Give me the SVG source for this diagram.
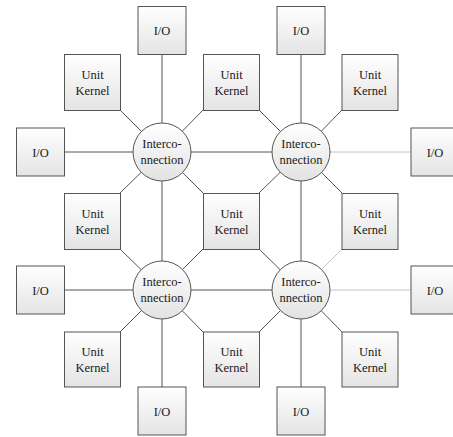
<svg xmlns="http://www.w3.org/2000/svg" width="453" height="437" viewBox="0 0 453 437">
  <defs>
    <linearGradient id="boxFill" x1="0" y1="0" x2="0" y2="1">
      <stop offset="0" stop-color="#ffffff"/>
      <stop offset="1" stop-color="#e4e4e4"/>
    </linearGradient>
    <linearGradient id="hubFill" x1="0" y1="0" x2="0" y2="1">
      <stop offset="0" stop-color="#ffffff"/>
      <stop offset="1" stop-color="#e2e2e2"/>
    </linearGradient>
  </defs>
  <style>
    .box { fill: url(#boxFill); stroke: #555555; stroke-width: 1; }
    .hub { fill: url(#hubFill); stroke: #555555; stroke-width: 1; }
    .link { stroke: #555555; stroke-width: 1; fill: none; }
    .link.faint { stroke: #c4c4c4; }
    text { font-family: "Liberation Serif", "Times New Roman", serif; font-size: 12.5px; fill: #1a1a1a; text-anchor: middle; }
  </style>
  <rect width="453" height="437" fill="#ffffff"/>

  <g id="connectors">
    <!-- hub to hub -->
    <line class="link" x1="162" y1="152" x2="301" y2="152"/>
    <line class="link" x1="162" y1="290" x2="301" y2="290"/>
    <line class="link" x1="162" y1="152" x2="162" y2="290"/>
    <line class="link" x1="301" y1="152" x2="301" y2="290"/>
    <!-- hubs to I/O -->
    <line class="link" x1="162" y1="54" x2="162" y2="152"/>
    <line class="link" x1="301" y1="54" x2="301" y2="152"/>
    <line class="link" x1="65" y1="152" x2="162" y2="152"/>
    <line class="link faint" x1="301" y1="152" x2="411" y2="152"/>
    <line class="link" x1="65" y1="290" x2="162" y2="290"/>
    <line class="link faint" x1="301" y1="290" x2="411" y2="290"/>
    <line class="link" x1="162" y1="290" x2="162" y2="387"/>
    <line class="link" x1="301" y1="290" x2="301" y2="387"/>
    <!-- hubs to unit kernels -->
    <line class="link" x1="162" y1="152" x2="120" y2="110"/>
    <line class="link" x1="162" y1="152" x2="203" y2="110"/>
    <line class="link" x1="162" y1="152" x2="120" y2="193"/>
    <line class="link" x1="162" y1="152" x2="203" y2="193"/>
    <line class="link" x1="301" y1="152" x2="259" y2="110"/>
    <line class="link" x1="301" y1="152" x2="342" y2="110"/>
    <line class="link" x1="301" y1="152" x2="259" y2="193"/>
    <line class="link" x1="301" y1="152" x2="342" y2="193"/>
    <line class="link" x1="162" y1="290" x2="120" y2="249"/>
    <line class="link" x1="162" y1="290" x2="203" y2="249"/>
    <line class="link" x1="162" y1="290" x2="120" y2="332"/>
    <line class="link" x1="162" y1="290" x2="203" y2="332"/>
    <line class="link" x1="301" y1="290" x2="259" y2="249"/>
    <line class="link faint" x1="301" y1="290" x2="342" y2="249"/>
    <line class="link" x1="301" y1="290" x2="259" y2="332"/>
    <line class="link" x1="301" y1="290" x2="342" y2="332"/>
  </g>

  <!-- I/O ports -->
  <g id="io-top-left"><rect class="box" x="138" y="6.5" width="48" height="48"/><text x="162" y="35">I/O</text></g>
  <g id="io-top-right"><rect class="box" x="277" y="6.5" width="48" height="48"/><text x="301" y="35">I/O</text></g>
  <g id="io-left-upper"><rect class="box" x="16.5" y="128" width="48" height="48"/><text x="40.5" y="156.5">I/O</text></g>
  <g id="io-left-lower"><rect class="box" x="16.5" y="266" width="48" height="48"/><text x="40.5" y="294.5">I/O</text></g>
  <g id="io-right-upper"><rect class="box" x="411" y="128" width="48" height="48"/><text x="435" y="156.5">I/O</text></g>
  <g id="io-right-lower"><rect class="box" x="411" y="266" width="48" height="48"/><text x="435" y="294.5">I/O</text></g>
  <g id="io-bottom-left"><rect class="box" x="138" y="387" width="48" height="48"/><text x="162" y="415.5">I/O</text></g>
  <g id="io-bottom-right"><rect class="box" x="277" y="387" width="48" height="48"/><text x="301" y="415.5">I/O</text></g>

  <!-- unit kernels -->
  <g id="uk-1"><rect class="box" x="64.5" y="54.5" width="56" height="56"/><text x="92.5" y="78.5">Unit</text><text x="92.5" y="94.5">Kernel</text></g>
  <g id="uk-2"><rect class="box" x="203.5" y="54.5" width="56" height="56"/><text x="231.5" y="78.5">Unit</text><text x="231.5" y="94.5">Kernel</text></g>
  <g id="uk-3"><rect class="box" x="342" y="54.5" width="56" height="56"/><text x="370" y="78.5">Unit</text><text x="370" y="94.5">Kernel</text></g>
  <g id="uk-4"><rect class="box" x="64.5" y="193.5" width="56" height="56"/><text x="92.5" y="217.5">Unit</text><text x="92.5" y="233.5">Kernel</text></g>
  <g id="uk-5"><rect class="box" x="203.5" y="193.5" width="56" height="56"/><text x="231.5" y="217.5">Unit</text><text x="231.5" y="233.5">Kernel</text></g>
  <g id="uk-6"><rect class="box" x="342" y="193.5" width="56" height="56"/><text x="370" y="217.5">Unit</text><text x="370" y="233.5">Kernel</text></g>
  <g id="uk-7"><rect class="box" x="64.5" y="332" width="56" height="55"/><text x="92.5" y="355.5">Unit</text><text x="92.5" y="371.5">Kernel</text></g>
  <g id="uk-8"><rect class="box" x="203.5" y="332" width="56" height="55"/><text x="231.5" y="355.5">Unit</text><text x="231.5" y="371.5">Kernel</text></g>
  <g id="uk-9"><rect class="box" x="342" y="332" width="56" height="55"/><text x="370" y="355.5">Unit</text><text x="370" y="371.5">Kernel</text></g>

  <!-- interconnection hubs -->
  <g id="hub-top-left"><circle class="hub" cx="162" cy="152" r="29"/><text x="162" y="148">Interco-</text><text x="162" y="163.5">nnection</text></g>
  <g id="hub-top-right"><circle class="hub" cx="301" cy="152" r="29"/><text x="301" y="148">Interco-</text><text x="301" y="163.5">nnection</text></g>
  <g id="hub-bottom-left"><circle class="hub" cx="162" cy="290" r="29"/><text x="162" y="286">Interco-</text><text x="162" y="301.5">nnection</text></g>
  <g id="hub-bottom-right"><circle class="hub" cx="301" cy="290" r="29"/><text x="301" y="286">Interco-</text><text x="301" y="301.5">nnection</text></g>
</svg>
